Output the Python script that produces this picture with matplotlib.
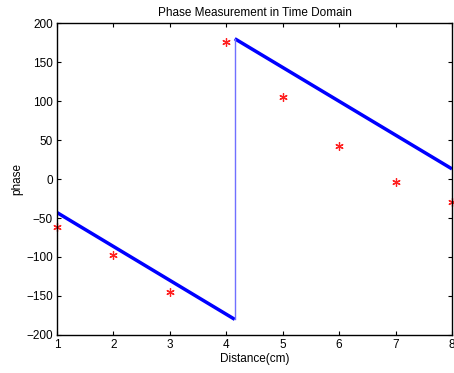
import matplotlib
matplotlib.use('Agg')
import matplotlib.pyplot as plt

plt.rcParams['font.family'] = ['Liberation Sans', 'DejaVu Sans']

# wrapped phase model (jumps from -180 to 180)
line_x1 = [1, 4.15]
line_y1 = [-43, -180]
line_x2 = [4.15, 8]
line_y2 = [180, 13]
jump_x = [4.15, 4.15]
jump_y = [-180, 180]

# measured phase
dist = [1, 2, 3, 4, 5, 6, 7, 8]
phase = [-62, -97, -145, 176, 105, 42, -4, -30]

fig = plt.figure(figsize=(4.54, 3.73), dpi=100)
ax = fig.add_axes([0.1256, 0.102, 0.870, 0.836])

ax.plot(line_x1, line_y1, color='#0000ff', lw=2.5, solid_capstyle='butt')
ax.plot(line_x2, line_y2, color='#0000ff', lw=2.5, solid_capstyle='butt')
ax.plot(jump_x, jump_y, color='#7070ff', lw=1.0)
ax.plot(dist, phase, linestyle='none', marker=(6, 2, 0), color='#ff2020',
        markersize=6, markeredgewidth=0.9, clip_on=False)

ax.set_xlim(1, 8)
ax.set_ylim(-200, 200)
ax.set_xticks(range(1, 9))
ax.set_yticks(range(-200, 201, 50))
ax.tick_params(direction='in', top=True, right=True, labelsize=8.5, length=3,
               width=0.8, pad=3)
for s in ax.spines.values():
    s.set_linewidth(1.0)

ax.set_title('Phase Measurement in Time Domain', fontsize=8.5, pad=5)
ax.set_xlabel('Distance(cm)', fontsize=8.5, labelpad=1)
ax.set_ylabel('phase', fontsize=8.5, labelpad=2)

fig.savefig('out.png', dpi=100)
